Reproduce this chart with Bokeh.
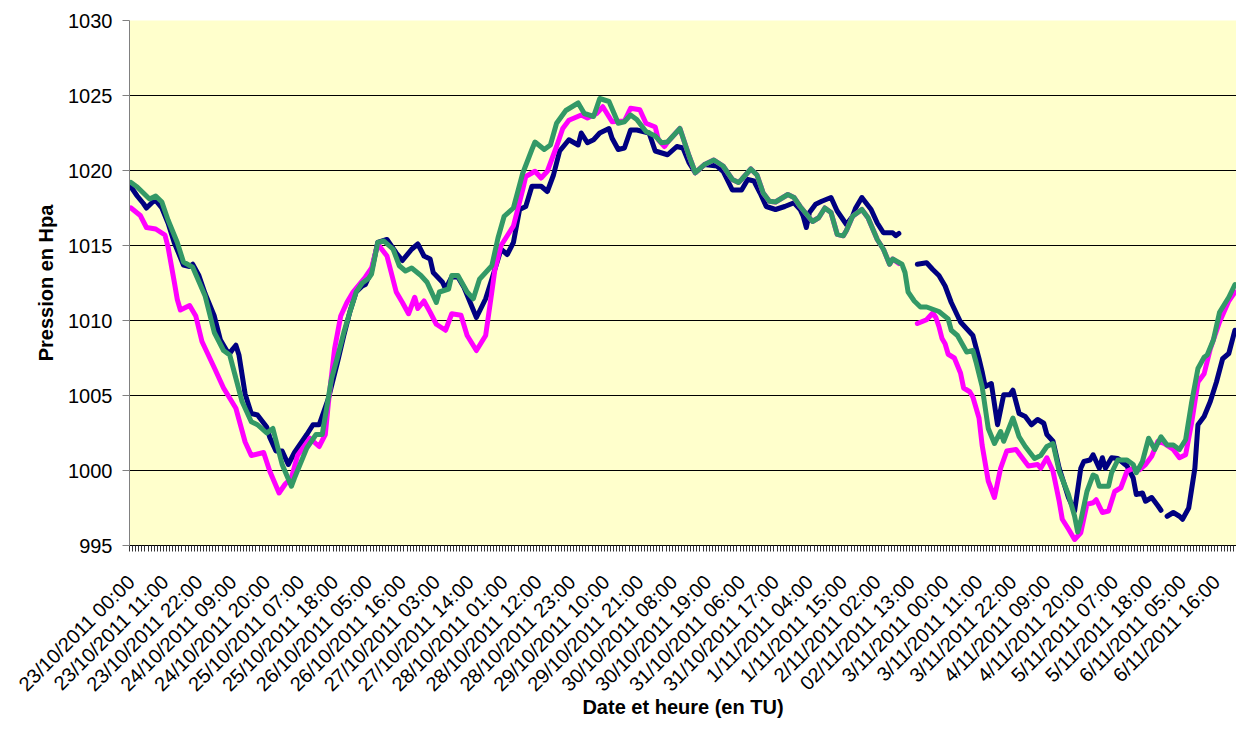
import math
from bokeh.plotting import figure
from bokeh.models import Range1d, FixedTicker
from bokeh.embed import file_html
from bokeh.resources import INLINE

NAN = float("nan")

tick_labels = [
    "23/10/2011 00:00", "23/10/2011 11:00", "23/10/2011 22:00", "24/10/2011 09:00",
    "24/10/2011 20:00", "25/10/2011 07:00", "25/10/2011 18:00", "26/10/2011 05:00",
    "26/10/2011 16:00", "27/10/2011 03:00", "27/10/2011 14:00", "28/10/2011 01:00",
    "28/10/2011 12:00", "28/10/2011 23:00", "29/10/2011 10:00", "29/10/2011 21:00",
    "30/10/2011 08:00", "30/10/2011 19:00", "31/10/2011 06:00", "31/10/2011 17:00",
    "1/11/2011 04:00", "1/11/2011 15:00", "2/11/2011 02:00", "02/11/2011 13:00",
    "3/11/2011 00:00", "3/11/2011 11:00", "3/11/2011 22:00", "4/11/2011 09:00",
    "4/11/2011 20:00", "5/11/2011 07:00", "5/11/2011 18:00", "6/11/2011 05:00",
    "6/11/2011 16:00",
]
label_step = 11          # hours between labels
n_hours = 359            # hourly categories on the axis

# Series 1 (navy)
navy_h = [0, 2, 4, 5, 7, 8, 10, 12, 14, 16, 17, 19, 20, 22, 24, 27, 29, 31, 32, 33, 34, 35, 37, 39, 41,
          44, 45, 47, 49, 51, 53, 57, 59, 61, 64, 67, 69, 71, 73, 75, 76, 78, 80, 83, 86, 88, 91, 93, 95,
          97, 98, 101, 102, 104, 106, 108, 110, 112, 115, 117, 120, 122, 124, 126, 128, 130, 133, 135,
          137, 139, 142, 145, 146, 148, 150, 152, 155, 156, 158, 160, 162, 164, 168, 170, 174, 177, 179,
          181, 183, 186, 190, 192, 195, 198, 200, 202, 204, 206, 209, 212, 215, 217, 218, 219, 220, 222,
          224, 227, 229, 232, 234, 235, 237, 240, 242, 244, 247, 248, 249, 252, 255, 258, 260, 262, 264,
          266, 269, 271, 273, 275, 276, 277, 279, 281, 283, 285, 286, 288, 290, 292, 294, 296, 297, 299,
          301, 304, 306, 308, 309, 311, 312, 314, 315, 316, 318, 320, 323, 325, 326, 328, 329, 331, 333,
          334, 335, 336, 338, 340, 341, 343, 345, 346, 348, 350, 352, 354, 356, 358]
navy_v = [1018.9, 1018.3, 1017.8, 1017.5, 1017.9, 1018.0, 1017.5, 1016.5, 1015.2, 1014.2, 1013.7, 1013.6,
          1013.75, 1013.0, 1011.8, 1010.3, 1008.7, 1008.0, 1007.8, 1008.1, 1008.35, 1007.7, 1005.1, 1003.8,
          1003.7, 1002.9, 1002.2, 1001.3, 1001.3, 1000.4, 1001.2, 1002.4, 1003.05, 1003.05, 1004.8, 1007.25,
          1009.0, 1010.6, 1011.9, 1012.3, 1012.4, 1013.3, 1015.2, 1015.4, 1014.5, 1014.0, 1014.75, 1015.1,
          1014.3, 1014.1, 1013.2, 1012.55, 1012.1, 1012.9, 1012.9, 1012.2, 1011.2, 1010.2, 1011.45, 1012.75,
          1014.75, 1014.4, 1015.2, 1017.4, 1017.6, 1018.95, 1018.95, 1018.6, 1019.7, 1021.3, 1022.05, 1021.7,
          1022.5, 1021.85, 1022.05, 1022.5, 1022.8, 1022.15, 1021.4, 1021.5, 1022.7, 1022.7, 1022.5, 1021.3,
          1021.05, 1021.6, 1021.5, 1020.5, 1019.85, 1020.4, 1020.3, 1019.95, 1018.7, 1018.7, 1019.4, 1019.3,
          1018.5, 1017.6, 1017.4, 1017.6, 1017.85, 1017.4, 1016.95, 1016.2, 1017.2, 1017.75, 1017.95, 1018.2,
          1017.3, 1016.4, 1016.95, 1017.5, 1018.2, 1017.4, 1016.5, 1015.85, 1015.85, 1015.65, 1015.8, NAN,
          1013.75, 1013.85, 1013.4, 1013.0, 1012.3, 1011.2, 1009.9, 1009.45, 1009.0, 1007.45, 1006.6, 1005.6,
          1005.8, 1003.05, 1005.05, 1005.05, 1005.35, 1003.8, 1003.6, 1003.05, 1003.4, 1003.15, 1002.4,
          1001.95, 1000.15, 998.2, 997.3, 1000.15, 1000.6, 1000.7, 1001.05, 1000.15, 1000.85, 1000.15,
          1000.85, 1000.8, 1000.3, 999.5, 998.4, 998.5, 997.95, 998.2, 997.65, 997.35, NAN, 996.95, 997.2,
          996.95, 996.75, 997.5, 1000.15, 1003.05, 1003.6, 1004.6, 1005.9, 1007.45, 1007.8, 1009.35]

# Series 2 (magenta)
magenta_h = [0, 3, 5, 8, 11, 12, 14, 15, 16, 19, 21, 23, 27, 30, 34, 37, 39, 43, 45, 48, 50, 52, 54, 58,
             61, 63, 64, 66, 68, 70, 72, 74, 76, 78, 80, 83, 86, 88, 90, 92, 93, 95, 97, 99, 102, 104, 107,
             109, 112, 115, 117, 118, 120, 122, 124, 127, 128, 131, 133, 135, 138, 140, 142, 146, 148, 151,
             153, 156, 160, 162, 165, 167, 170, 171, 173, 174, 178, 181, 183, 186, 189, 192, 195, 197, 198,
             201, 203, 205, 207, 209, 213, 215, 217, 221, 223, 225, 227, 229, 231, 232, 234, 237, 239, 242,
             244, 246, 247, 249, 252, 255, 258, 260, 261, 262, 263, 264, 265, 267, 269, 270, 272, 273, 275,
             276, 278, 280, 282, 284, 287, 289, 291, 294, 295, 297, 299, 301, 302, 304, 306, 308, 310, 312,
             313, 315, 317, 319, 321, 323, 325, 327, 329, 331, 333, 335, 338, 340, 342, 344, 346, 348, 350,
             353, 356, 358]
magenta_v = [1017.5, 1017.0, 1016.2, 1016.1, 1015.7, 1014.9, 1012.6, 1011.4, 1010.7, 1011.0, 1010.3, 1008.6,
             1006.85, 1005.5, 1004.15, 1001.9, 1001.0, 1001.2, 999.95, 998.5, 999.1, 999.5, 1001.0, 1002.15,
             1001.6, 1002.4, 1004.5, 1008.1, 1010.3, 1011.2, 1011.9, 1012.4, 1012.9, 1013.5, 1015.1, 1014.3,
             1011.9, 1011.2, 1010.45, 1011.55, 1010.8, 1011.3, 1010.55, 1009.75, 1009.35, 1010.45, 1010.35,
             1009.0, 1008.0, 1009.0, 1011.9, 1013.4, 1015.0, 1015.65, 1016.3, 1018.7, 1019.6, 1019.95, 1019.5,
             1019.95, 1021.6, 1022.8, 1023.35, 1023.7, 1023.5, 1023.8, 1024.25, 1023.25, 1023.3, 1024.15,
             1024.05, 1023.15, 1022.9, 1022.05, 1021.6, 1021.9, 1022.8, 1020.95, 1019.85, 1020.4, 1020.7,
             1020.3, 1019.4, 1019.2, 1019.4, 1020.1, 1019.7, 1018.5, 1017.95, 1017.9, 1018.4, 1018.2, 1017.6,
             1016.6, 1016.85, 1017.5, 1017.2, 1015.75, 1015.65, 1016.0, 1016.95, 1017.4, 1016.85, 1015.4,
             1014.75, 1013.75, 1014.1, 1013.8, NAN, 1009.8, 1010.05, 1010.5, 1010.2, 1009.6, 1008.8, 1008.45,
             1007.75, 1007.5, 1006.5, 1005.5, 1005.25, 1004.9, 1003.5, 1001.7, 999.3, 998.2, 1000.15, 1001.3,
             1001.4, 1000.85, 1000.3, 1000.4, 1000.15, 1000.85, 999.95, 997.95, 996.75, 996.1, 995.4, 995.85,
             997.75, 997.85, 998.05, 997.2, 997.3, 998.6, 998.85, 999.95, 1000.15, 1000.05, 1000.4, 1000.95,
             1001.95, 1001.8, 1001.4, 1000.85, 1001.05, 1003.25, 1005.9, 1006.45, 1008.1, 1009.9, 1011.3,
             1011.9]

# Series 3 (green)
green_h = [0, 2, 4, 6, 8, 10, 12, 15, 17, 20, 22, 24, 27, 30, 32, 36, 39, 41, 44, 46, 49, 52, 53, 57, 60,
           62, 65, 67, 69, 71, 73, 75, 77, 78, 80, 82, 85, 87, 89, 91, 94, 96, 99, 100, 103, 104, 106, 109,
           111, 113, 117, 119, 121, 124, 127, 130, 131, 134, 136, 138, 141, 145, 147, 150, 152, 155, 158,
           160, 162, 164, 167, 170, 172, 174, 178, 181, 183, 186, 189, 192, 195, 197, 198, 201, 203, 205,
           207, 209, 213, 215, 217, 221, 223, 225, 227, 229, 231, 232, 234, 237, 239, 242, 244, 246, 247,
           250, 251, 252, 254, 256, 258, 262, 265, 266, 268, 271, 273, 274, 276, 278, 280, 282, 283, 286,
           288, 290, 293, 295, 297, 299, 301, 304, 306, 307, 308, 310, 312, 313, 314, 317, 318, 320, 323,
           325, 326, 328, 330, 332, 334, 336, 338, 340, 342, 344, 346, 348, 349, 351, 353, 356, 358]
green_v = [1019.2, 1018.9, 1018.5, 1018.1, 1018.3, 1017.9, 1016.7, 1015.2, 1013.9, 1013.55, 1012.6, 1011.65,
           1009.2, 1008.0, 1007.7, 1004.6, 1003.25, 1003.05, 1002.5, 1002.8, 1000.4, 998.95, 999.5, 1001.5,
           1002.4, 1002.4, 1006.1, 1007.6, 1009.2, 1010.6, 1011.9, 1012.5, 1012.8, 1013.1, 1015.2, 1015.3,
           1014.75, 1013.65, 1013.3, 1013.5, 1013.0, 1012.55, 1011.2, 1011.9, 1012.1, 1013.0, 1013.0, 1011.9,
           1011.45, 1012.75, 1013.65, 1015.5, 1016.95, 1017.5, 1019.8, 1021.4, 1021.9, 1021.4, 1021.7, 1023.15,
           1024.0, 1024.5, 1023.8, 1023.6, 1024.8, 1024.6, 1023.15, 1023.25, 1023.7, 1023.4, 1022.6, 1022.3,
           1021.85, 1021.9, 1022.8, 1020.95, 1019.85, 1020.4, 1020.7, 1020.3, 1019.4, 1019.2, 1019.4, 1020.1,
           1019.7, 1018.5, 1017.95, 1017.9, 1018.4, 1018.2, 1017.6, 1016.6, 1016.85, 1017.5, 1017.2, 1015.75,
           1015.65, 1016.0, 1016.95, 1017.4, 1016.85, 1015.4, 1014.75, 1013.75, 1014.1, 1013.75, 1013.2,
           1011.9, 1011.3, 1010.9, 1010.9, 1010.6, 1010.1, 1009.35, 1009.0, 1007.9, 1008.0, 1007.25, 1005.6,
           1002.8, 1001.8, 1002.6, 1001.95, 1003.5, 1002.25, 1001.6, 1000.8, 1001.0, 1001.6, 1001.8, 999.95,
           998.4, 996.95, 995.9, 996.65, 998.6, 999.7, 999.6, 998.95, 998.95, 999.85, 1000.7, 1000.7, 1000.4,
           999.85, 1000.6, 1002.15, 1001.4, 1002.25, 1001.7, 1001.7, 1001.4, 1002.05, 1004.6, 1006.8, 1007.55,
           1007.7, 1008.7, 1010.55, 1011.55, 1012.4]

y_ticks = [995, 1000, 1005, 1010, 1015, 1020, 1025, 1030]

FONT = "Liberation Sans"

p = figure(width=1236, height=721,
           x_range=Range1d(-0.5, n_hours - 0.5), y_range=Range1d(995, 1030),
           output_backend="svg", toolbar_location=None,
           background_fill_color="#FFFFCC", border_fill_color="white",
           min_border_left=129, min_border_right=0, min_border_top=20, min_border_bottom=173)
p.outline_line_color = None

p.xgrid.visible = False
p.ygrid.ticker = FixedTicker(ticks=y_ticks[1:-1])
p.ygrid.grid_line_color = "black"
p.ygrid.grid_line_width = 1

# y axis
p.yaxis.ticker = FixedTicker(ticks=y_ticks)
p.yaxis.axis_line_color = "#808080"
p.yaxis.major_tick_line_color = "#808080"
p.yaxis.major_tick_out = 7
p.yaxis.major_tick_in = 0
p.yaxis.minor_tick_line_color = None
p.yaxis.major_label_standoff = 10
p.yaxis.major_label_text_font = FONT
p.yaxis.major_label_text_font_size = "20px"
p.yaxis.major_label_text_color = "black"
p.yaxis.axis_label = "Pression en Hpa"
p.yaxis.axis_label_text_font = FONT
p.yaxis.axis_label_text_font_size = "20px"
p.yaxis.axis_label_text_font_style = "bold"
p.yaxis.axis_label_text_color = "black"
p.yaxis.axis_label_standoff = 8

# x axis
label_ticks = [i * label_step for i in range(len(tick_labels))]
p.xaxis.ticker = FixedTicker(ticks=label_ticks,
                             minor_ticks=[i - 0.5 for i in range(n_hours + 1)])
p.xaxis.major_label_overrides = {t: lab for t, lab in zip(label_ticks, tick_labels)}
p.xaxis.major_label_orientation = math.pi / 4
p.xaxis.axis_line_color = "black"
p.xaxis.major_tick_line_color = None
p.xaxis.major_tick_out = 0
p.xaxis.major_tick_in = 0
p.xaxis.minor_tick_line_color = "#333333"
p.xaxis.minor_tick_out = 6
p.xaxis.minor_tick_in = 0
p.xaxis.major_label_standoff = 27
p.xaxis.major_label_text_font = FONT
p.xaxis.major_label_text_font_size = "20px"
p.xaxis.major_label_text_color = "black"
p.xaxis.axis_label = "Date et heure (en TU)"
p.xaxis.axis_label_text_font = FONT
p.xaxis.axis_label_text_font_size = "20px"
p.xaxis.axis_label_text_font_style = "bold"
p.xaxis.axis_label_text_color = "black"
p.xaxis.axis_label_standoff = -10

for hs, vs, col in [(navy_h, navy_v, "#000080"),
                    (magenta_h, magenta_v, "#FF00FF"),
                    (green_h, green_v, "#339966")]:
    p.line(hs, vs, line_color=col, line_width=5, line_join="round", line_cap="round")

open("out.html", "w").write(file_html(p, INLINE))
